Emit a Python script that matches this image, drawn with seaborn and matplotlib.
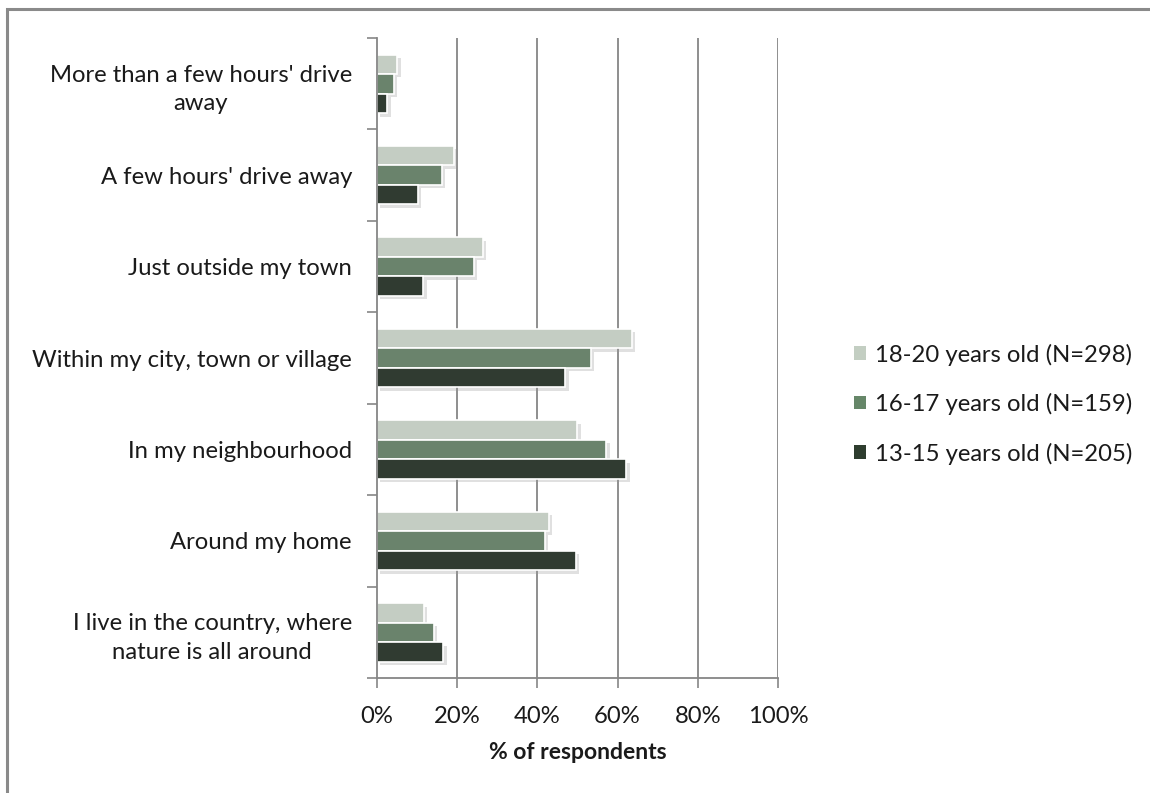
# Where young people go to be in nature, by age group
import numpy as np
import pandas as pd
import matplotlib
matplotlib.use("Agg")
import matplotlib.pyplot as plt
import matplotlib.patheffects as pe
from matplotlib.patches import Patch, Rectangle
import seaborn as sns

# Data (% of respondents)
places = [
    "More than a few hours' drive\naway",
    "A few hours' drive away",
    "Just outside my town",
    "Within my city, town or village",
    "In my neighbourhood",
    "Around my home",
    "I live in the country, where\nnature is all around",
]
groups = ["18-20 years old (N=298)", "16-17 years old (N=159)", "13-15 years old (N=205)"]
age_18_20 = [5.1, 19.1, 26.4, 63.5, 49.9, 42.9, 11.7]
age_16_17 = [4.2, 16.2, 24.2, 53.3, 57.2, 41.9, 14.2]
age_13_15 = [2.6, 10.2, 11.5, 47.0, 62.2, 49.6, 16.5]
colors = ["#C3CEC2", "#668769", "#2E3D2F"]

df = pd.DataFrame({
    "place": places * 3,
    "group": np.repeat(groups, len(places)),
    "pct": age_18_20 + age_16_17 + age_13_15,
})

sns.set_theme(style="white")
plt.rcParams["font.family"] = ["Lato", "DejaVu Sans"]

fig = plt.figure(figsize=(11.5, 7.93), dpi=100)
ax = fig.add_axes([0.3278, 0.145, 0.3487, 0.807])

sns.barplot(data=df, y="place", x="pct", hue="group", order=places,
            hue_order=groups, palette=colors, orient="h", width=0.64,
            edgecolor="white", linewidth=1.2, legend=False, ax=ax)

# soft drop shadow like the original
for bar in ax.patches:
    bar.set_path_effects([
        pe.SimplePatchShadow(offset=(2.5, -2.5), shadow_rgbFace="#999999", alpha=0.3),
        pe.Normal()])

grid_c = "#868686"
txt_c = "#1a1a1a"
ax.set_xlim(0, 100)
ax.set_ylim(len(places) - 0.5, -0.5)
ax.set_xticks(range(0, 101, 20))
ax.set_xticklabels([f"{v}%" for v in range(0, 101, 20)])
ax.set_axisbelow(True)
for v in range(20, 101, 20):
    ax.axvline(v, color=grid_c, lw=1.3, zorder=0)

# category boundary ticks on the y axis
ax.set_yticks(np.arange(-0.5, len(places), 1), minor=True)
ax.tick_params(axis="y", which="minor", length=7, width=1.2, color=grid_c, left=True)
ax.tick_params(axis="y", which="major", length=0, pad=18, labelsize=17.2, labelcolor=txt_c)
ax.tick_params(axis="x", length=7, width=1.2, color=grid_c, bottom=True, pad=13,
               labelsize=17.2, labelcolor=txt_c)
for lab in ax.get_yticklabels():
    lab.set_multialignment("center")
    lab.set_linespacing(1.45)

for s in ["top", "right"]:
    ax.spines[s].set_visible(False)
for s in ["left", "bottom"]:
    ax.spines[s].set_color(grid_c)
    ax.spines[s].set_linewidth(1.3)

ax.set_ylabel("")
ax.set_xlabel("% of respondents", fontsize=16.5, fontweight="bold", color=txt_c, labelpad=11)

handles = [Patch(facecolor=c, edgecolor="none") for c in colors]
fig.legend(handles, groups, loc="center left", bbox_to_anchor=(0.7243, 0.4905),
           frameon=False, fontsize=17.2, handlelength=0.5, handleheight=0.5,
           handletextpad=0.35, labelspacing=1.15, labelcolor=txt_c)

# outer chart border (cut off at the right and bottom in the original)
fig.patches.append(Rectangle((7 / 1150, -0.05), 1.1, 1 - 9 / 793 + 0.05,
                             transform=fig.transFigure, fill=False,
                             edgecolor="#8a8a8a", linewidth=2.2))

fig.savefig("out.png", dpi=100)
